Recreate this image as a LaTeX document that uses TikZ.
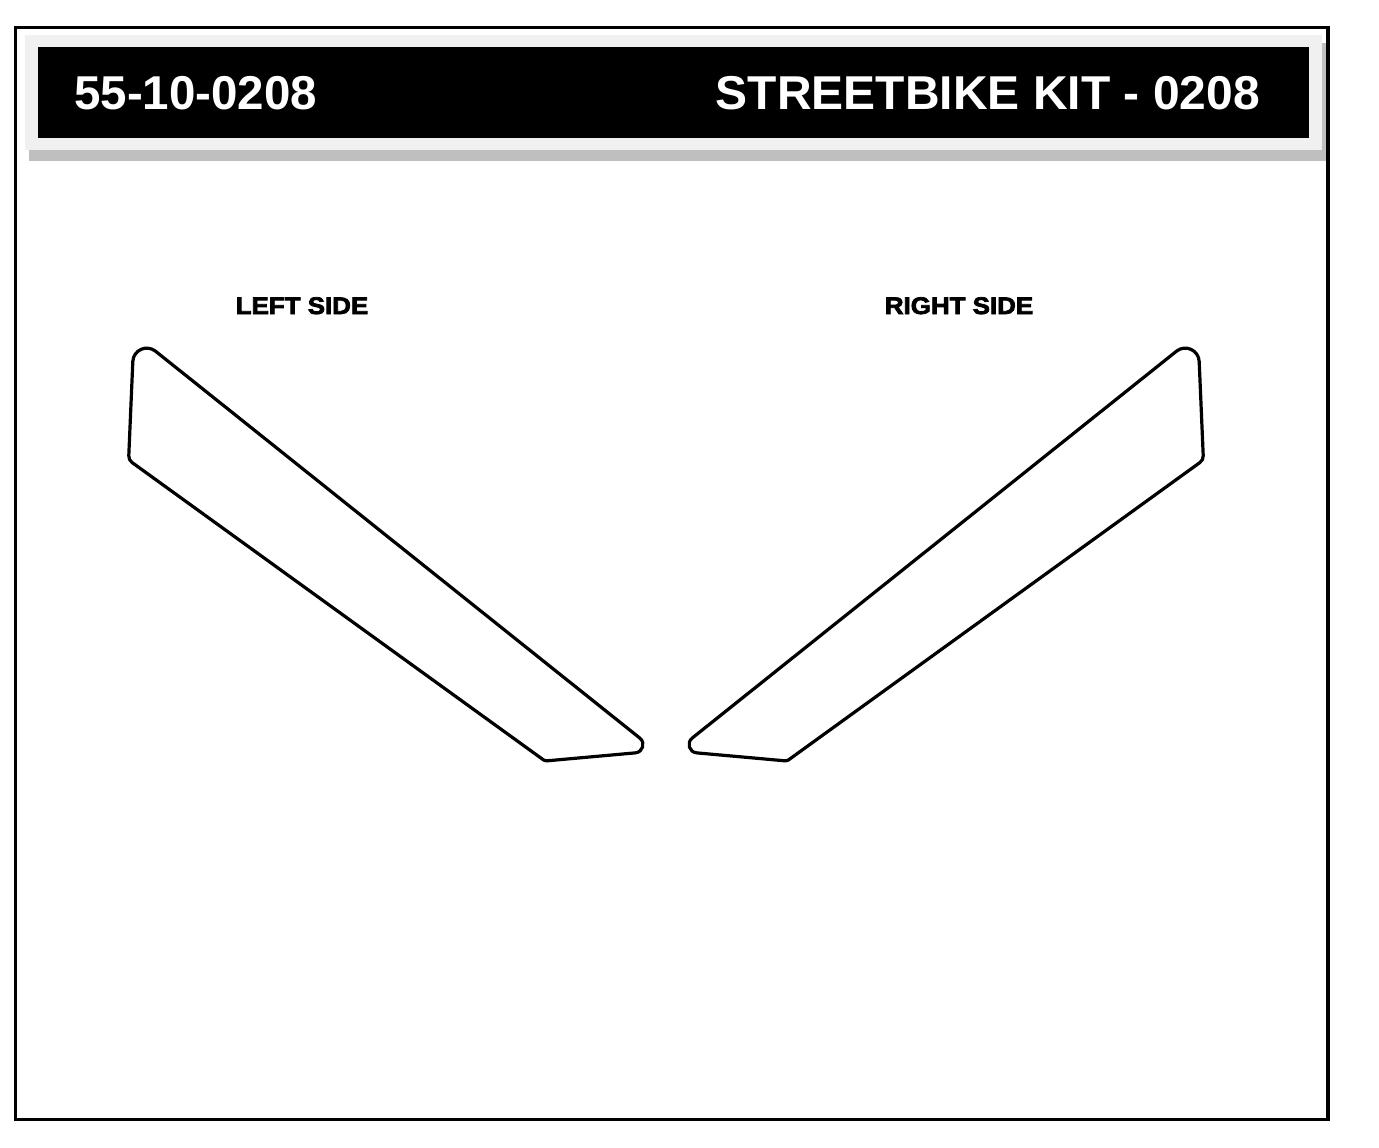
\documentclass[tikz,border=0pt]{standalone}
\usepackage{fontspec}
\setmainfont{Liberation Sans}
\newfontfamily\heavyfont[FakeBold=3]{Liberation Sans}
\usepackage{amsmath}
\usetikzlibrary{calc}
% rounded corner at #2 between #1 and #3: tangent distance #4, control distance #5
\newcommand{\padcorner}[5]{-- ($(#2)!#4!(#1)$) .. controls ($(#2)!#5!(#1)$) and ($(#2)!#5!(#3)$) .. ($(#2)!#4!(#3)$)}

\begin{document}
\begin{tikzpicture}[x=1pt,y=-1pt]
  \tikzstyle{title}=[text=white,font=\fontsize{47.5}{50}\selectfont\bfseries,inner sep=0pt]
  \tikzstyle{side}=[font=\heavyfont\fontsize{24}{26}\selectfont\bfseries,inner sep=0pt]
  \tikzstyle{pad}=[draw=black,line width=3.2pt,line join=round]
  \useasboundingbox (0,0) rectangle (1379,1148);
  % header bar
  \path[fill=black!25] (29,43) rectangle (1326,161);
  \path[fill=black!6] (25,35) rectangle (1322,150);
  \path[fill=black] (38,47) rectangle (1309,138);
  \node[title,anchor=base west](N) at (74,109){55-10-0208};
  \node[title,anchor=base east](K) at (1260,109){\scalebox{1.01}[1]{STREETBIKE KIT - 0208}};
  % frame
  \path[draw,line width=3.5pt] (15.5,27.5) rectangle (1328,1119.5);
  % labels
  \node[side,anchor=base](L) at (302,314){\scalebox{1.08}[1]{LEFT SIDE}};
  \node[side,anchor=base](R) at (959,314){\scalebox{1.08}[1]{RIGHT SIDE}};
  % left pad
  \coordinate (LA) at (134,334);
  \coordinate (LB) at (128.6,460);
  \coordinate (LC) at (545,761);
  \coordinate (LD) at (656,751);
  \path[pad] ($(LA)!0.5!(LB)$) \padcorner{LA}{LB}{LC}{4.3pt}{1.6pt}
    \padcorner{LB}{LC}{LD}{1.5pt}{0.6pt} \padcorner{LC}{LD}{LA}{20.7pt}{13.2pt}
    \padcorner{LD}{LA}{LB}{27.5pt}{16.1pt} -- cycle;
  % right pad
  \coordinate (RA) at (1198,334);
  \coordinate (RB) at (1203.4,460);
  \coordinate (RC) at (787,761);
  \coordinate (RD) at (676,751);
  \path[pad] ($(RA)!0.5!(RB)$) \padcorner{RA}{RB}{RC}{4.3pt}{1.6pt}
    \padcorner{RB}{RC}{RD}{1.5pt}{0.6pt} \padcorner{RC}{RD}{RA}{20.7pt}{13.2pt}
    \padcorner{RD}{RA}{RB}{27.5pt}{16.1pt} -- cycle;
\end{tikzpicture}
\end{document}
